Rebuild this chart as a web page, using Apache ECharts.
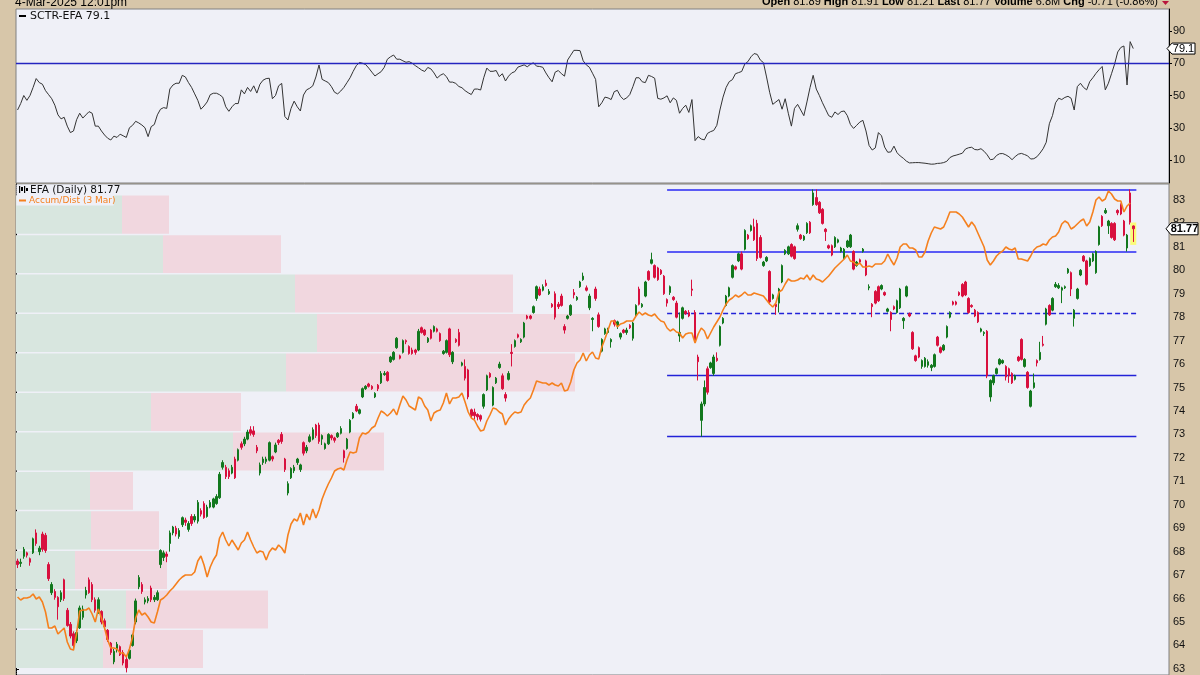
<!DOCTYPE html>
<html><head><meta charset="utf-8">
<script src="https://cdn.jsdelivr.net/npm/echarts@6/dist/echarts.min.js"></script>
<style>html,body{margin:0;padding:0;background:#d7c6a9}#c{width:1200px;height:675px}</style>
</head><body><div id="c"></div>
<script>
// EFA daily candles: [open, close, low, high]
const candles = [
[67.6,67.45,67.3,67.7],[67.5,67.55,67.35,67.7],[67.8,68.1,67.7,68.2],[67.95,67.85,67.75,68.0],[67.7,67.55,67.4,67.75],[67.95,68.55,67.9,68.6],[68.8,68.35,68.25,68.95],[68.0,68.15,67.85,68.25],[68.75,68.1,68.0,68.85],[68.7,68.05,67.95,68.8],
[67.45,66.85,66.75,67.55],[66.25,66.6,66.15,66.7],[66.3,66.05,65.95,66.4],[66.05,65.65,65.1,66.1],[65.95,66.25,65.85,66.35],[66.8,66.0,65.9,66.85],[65.5,64.85,64.8,65.6],[64.9,64.4,64.3,65.0],[64.5,64.0,63.8,64.6],[64.2,64.55,64.1,64.65],
[64.75,65.6,64.7,65.7],[65.2,65.55,65.1,65.7],[66.15,66.35,66.0,66.5],[66.8,66.25,66.2,66.9],[66.6,65.95,65.85,66.7],[65.95,65.5,65.4,66.05],[65.45,65.95,65.35,66.05],[65.45,65.0,64.9,65.5],[65.05,64.8,64.7,65.15],[64.65,64.25,64.15,64.7],
[64.1,63.7,63.6,64.15],[63.3,63.75,63.2,63.85],[63.85,64.05,63.7,64.15],[63.95,63.6,63.55,64.0],[63.7,63.25,63.15,63.8],[63.4,63.05,62.85,63.5],[63.45,63.8,63.4,63.85],[64.0,64.45,63.95,64.5],[65.0,65.9,64.9,66.0],[66.5,66.9,66.4,67.0],
[66.6,66.3,66.2,66.7],[65.85,65.95,65.75,66.05],[65.9,66.0,65.8,66.1],[66.45,65.95,65.85,66.55],[65.95,66.05,65.85,66.15],[65.95,66.25,65.9,66.35],[67.45,68.05,67.3,68.1],[67.75,67.95,67.6,68.05],[67.9,67.8,67.55,68.0],[68.35,68.8,68.0,68.9],
[68.8,69.05,68.7,69.1],[69.0,68.75,68.65,69.1],[68.65,68.9,68.55,69.0],[69.15,69.45,69.05,69.5],[69.35,69.25,69.1,69.45],[68.95,69.2,68.85,69.3],[69.5,69.2,69.1,69.6],[69.35,69.5,69.25,69.6],[69.3,70.1,69.2,70.2],[69.75,69.6,69.5,69.85],
[70.05,69.45,69.4,70.15],[69.5,69.9,69.45,70.0],[69.9,70.1,69.85,70.2],[69.9,70.25,69.85,70.3],[70.05,70.35,70.0,70.45],[70.3,71.3,70.25,71.4],[71.6,71.8,71.5,71.9],[71.6,71.2,71.1,71.7],[71.45,71.2,71.1,71.55],[71.35,71.6,71.3,71.7],
[71.95,71.15,71.1,72.05],[71.9,72.35,71.85,72.4],[72.6,72.45,72.35,72.7],[72.6,72.8,72.5,72.9],[72.8,73.1,72.75,73.2],[73.2,73.05,72.95,73.35],[73.15,73.0,72.9,73.35],[72.45,72.3,72.2,72.55],[71.35,71.7,71.25,71.8],[71.8,71.95,71.7,72.05],
[71.85,71.95,71.75,72.05],[71.9,72.65,71.85,72.7],[72.05,71.95,71.85,72.1],[72.25,72.55,72.2,72.65],[72.75,72.65,72.55,72.8],[73.0,72.7,72.6,73.1],[71.95,71.5,71.4,72.0],[70.5,70.9,70.4,71.0],[71.15,71.55,71.1,71.6],[71.45,71.6,71.35,71.7],
[71.8,71.95,71.7,72.0],[71.5,71.7,71.4,71.75],[72.65,72.2,72.1,72.7],[72.3,72.45,72.2,72.55],[72.7,72.9,72.65,73.0],[72.8,73.2,72.75,73.3],[73.4,72.95,72.85,73.45],[73.4,72.7,72.6,73.5],[72.8,72.95,72.55,73.0],[72.4,72.6,72.35,72.65],
[72.6,73.0,72.55,73.05],[72.95,72.85,72.75,73.0],[72.85,72.75,72.65,72.9],[72.9,73.05,72.85,73.1],[73.05,73.25,73.0,73.35],[72.3,72.0,71.8,72.35],[72.4,72.8,72.35,72.85],[73.1,73.6,73.05,73.65],[73.7,73.9,73.65,73.95],[74.2,74.0,73.95,74.3],
[73.9,74.05,73.85,74.1],[74.6,74.95,74.55,75.0],[74.95,75.05,74.9,75.1],[75.15,75.05,75.0,75.2],[75.05,74.95,74.9,75.1],[74.6,74.75,74.55,74.8],[75.1,74.95,74.85,75.15],[75.2,75.6,75.15,75.7],[75.55,75.6,75.5,75.7],[75.65,75.3,75.25,75.7],
[76.1,76.3,76.05,76.35],[76.2,76.5,76.15,76.55],[76.7,77.1,76.65,77.15],[76.35,76.25,76.2,76.4],[76.5,77.0,76.45,77.05],[77.0,76.95,76.85,77.05],[76.75,76.45,76.4,76.8],[76.6,76.45,76.4,76.7],[76.6,76.5,76.4,76.65],[76.6,77.4,76.55,77.5],
[77.55,77.35,77.3,77.6],[77.45,77.25,77.2,77.5],[76.95,77.1,76.9,77.15],[77.45,77.1,77.05,77.5],[77.4,77.6,77.35,77.65],[77.5,77.4,77.35,77.55],[77.3,77.0,76.95,77.35],[76.45,76.55,76.4,76.6],[76.5,77.0,76.45,77.05],[77.5,76.4,76.3,77.55],
[76.1,76.5,76.0,76.55],[77.05,76.95,76.9,77.1],[77.35,76.8,76.75,77.5],[75.95,76.05,75.9,76.1],[75.9,75.4,75.3,76.2],[75.75,74.6,74.5,75.8],[74.05,73.8,73.7,74.1],[73.95,73.8,73.65,74.1],[73.85,73.75,73.6,73.9],[73.8,73.65,73.55,73.85],
[74.2,74.7,74.1,74.75],[74.9,75.5,74.85,75.55],[75.6,75.45,75.4,75.65],[74.25,75.0,74.2,75.05],[75.2,75.4,75.15,75.45],[75.85,76.0,75.8,76.1],[75.5,74.95,74.9,75.6],[74.7,74.55,74.4,74.8],[75.35,75.6,75.3,75.7],[76.5,76.45,75.9,76.85],
[76.75,77.0,76.7,77.05],[77.25,77.15,77.1,77.3],[76.95,77.05,76.9,77.1],[77.15,77.75,77.1,77.8],[78.05,77.95,77.9,78.1],[78.05,77.95,77.9,78.1],[78.2,78.45,78.15,78.5],[78.8,79.3,78.7,79.35],[79.2,78.95,78.9,79.3],[79.15,79.3,79.1,79.4],
[79.45,79.35,79.3,79.6],[79.0,79.1,78.95,79.2],[78.55,78.45,78.4,78.6],[79.0,78.0,77.9,79.1],[78.55,78.45,78.35,78.65],[78.9,78.5,78.45,79.0],[77.6,77.45,77.3,77.7],[77.95,78.05,77.9,78.1],[78.1,78.5,78.05,78.55],[79.05,78.95,78.8,79.2],
[78.75,78.85,78.7,78.9],[79.3,79.5,79.25,79.55],[79.6,79.75,79.55,79.9],[79.25,79.15,79.1,79.35],[78.4,78.9,78.3,79.0],[77.9,77.95,77.4,78.0],[79.2,78.8,78.7,79.3],[78.1,77.6,77.55,78.2],[76.55,77.05,76.5,77.1],[77.3,77.5,77.25,77.55],
[77.35,77.5,77.3,77.55],[76.95,77.05,76.7,77.1],[77.85,77.7,77.6,77.9],[77.65,77.8,77.5,77.85],[77.15,77.3,77.05,77.35],[77.45,77.35,77.3,77.5],[77.35,77.45,77.25,77.55],[77.65,77.55,77.5,77.7],[77.1,77.75,77.0,77.8],[78.1,78.5,78.05,78.55],
[79.2,78.55,78.5,79.3],[78.45,78.55,78.4,78.6],[78.9,79.5,78.85,79.55],[79.95,79.6,79.55,80.0],[80.3,80.45,80.25,80.75],[80.2,79.7,79.65,80.25],[80.1,79.6,79.55,80.15],[80.0,79.85,79.8,80.05],[79.75,79.0,78.95,79.8],[78.75,78.6,78.45,78.8],
[79.05,79.3,78.95,79.35],[78.85,78.75,78.7,78.9],[78.6,78.0,77.95,78.7],[77.2,77.35,76.95,78.2],[77.95,78.4,77.9,78.45],[78.25,78.15,78.1,78.3],[78.2,78.05,78.0,78.3],[79.2,79.15,78.9,79.6],[78.2,77.0,76.95,78.3],[76.3,76.1,75.3,76.4],
[73.6,74.3,72.9,74.4],[74.3,75.0,74.2,75.3],[75.8,74.8,74.7,75.9],[75.85,76.05,75.8,76.1],[75.6,76.3,75.5,76.4],[76.25,76.15,76.1,76.5],[76.8,77.6,76.75,77.65],[77.75,77.95,77.7,78.0],[78.5,78.9,78.45,78.95],[78.9,79.25,78.85,79.3],
[79.7,80.2,79.65,80.25],[80.15,80.05,80.0,80.2],[80.4,80.7,80.35,80.75],[80.7,80.05,80.0,80.8],[80.9,81.7,80.85,81.75],[81.5,81.35,81.3,81.55],[81.7,81.9,81.65,81.95],[81.85,81.3,81.25,82.2],[82.0,80.5,80.4,82.15],[81.4,80.55,80.5,81.5],
[80.2,80.35,80.15,80.4],[80.4,80.55,80.35,80.6],[79.95,78.65,78.55,80.0],[78.8,78.95,78.75,79.0],[78.55,78.45,78.1,78.6],[78.6,79.2,78.2,79.25],[79.5,80.2,79.45,80.25],[80.7,80.85,80.65,80.9],[80.7,81.0,80.65,81.05],[81.1,80.6,80.55,81.15],
[81.0,80.5,80.45,81.05],[81.75,81.9,81.65,82.0],[81.5,81.35,81.3,81.55],[81.3,81.45,81.25,81.5],[81.6,82.0,81.55,82.05],[82.05,81.6,81.55,82.1],[82.8,83.3,82.75,83.45],[83.1,82.8,82.75,83.45],[82.9,82.45,82.4,82.95],[82.6,82.0,81.95,82.65],
[81.75,81.65,81.25,81.8],[81.05,80.95,80.9,81.1],[81.05,80.65,80.6,81.1],[81.0,81.4,80.95,81.45],[81.2,81.3,81.15,81.35],[80.8,80.95,80.75,81.0],[80.5,80.9,80.45,80.95],[81.0,81.25,80.95,81.3],[81.0,81.5,80.95,81.55],[80.8,80.05,80.0,80.85],
[80.2,80.35,80.15,80.4],[80.45,80.35,80.3,80.5],[80.8,80.9,80.75,80.95],[80.4,79.8,79.75,80.45],[79.25,79.3,79.15,79.4],[78.55,78.45,78.0,78.6],[79.1,78.6,78.55,79.15],[79.3,78.7,78.65,79.35],[79.2,79.35,79.15,79.4],[79.05,78.95,78.9,79.1],
[78.25,78.35,78.2,78.4],[78.2,77.9,77.4,78.25],[78.45,78.35,78.3,78.5],[78.2,78.7,78.15,78.75],[78.4,79.2,78.35,79.25],[77.85,77.95,77.5,78.0],[78.9,79.3,78.85,79.35],[78.15,78.05,78.0,78.2],[77.35,76.65,76.6,77.4],[76.35,76.15,76.1,76.4],
[76.7,76.3,76.25,76.75],[75.9,76.15,75.8,76.2],[75.9,76.25,75.85,76.3],[75.95,76.1,75.85,76.2],[75.85,75.95,75.7,76.0],[75.9,76.4,75.85,76.45],[77.15,76.8,76.75,77.2],[76.7,76.5,76.45,76.75],[76.6,76.8,76.55,76.85],[77.15,77.6,77.1,77.65],
[78.0,78.2,77.95,78.25],[78.65,78.55,78.5,78.7],[78.65,78.55,78.5,78.7],[79.05,78.95,78.9,79.1],[79.4,78.9,78.85,79.45],[79.5,78.95,78.9,79.55],[78.8,78.2,78.15,78.85],[78.5,78.45,78.4,78.55],[78.3,78.05,78.0,78.35],[78.2,77.8,77.75,78.25],
[77.4,77.5,77.35,77.55],[77.3,77.35,77.2,77.4],[77.4,75.5,75.4,77.45],[74.6,75.3,74.4,75.35],[75.2,75.5,75.1,75.55],[75.6,75.8,75.55,75.85],[76.0,76.2,75.95,76.25],[76.05,76.15,76.0,76.2],[75.9,75.45,75.3,75.95],[75.8,75.5,75.2,75.85],
[75.6,75.2,75.15,75.65],[75.35,75.5,75.3,75.55],[76.3,76.15,76.1,76.35],[77.05,76.2,76.15,77.1],[75.9,76.2,75.85,76.25],[75.65,75.0,74.95,75.7],[74.2,74.85,74.15,74.9],[75.0,75.2,74.95,75.6],[76.15,76.05,75.9,76.2],[76.2,76.5,76.15,76.95],
[76.85,76.8,76.75,77.2],[77.7,78.35,77.65,78.4],[78.5,78.1,78.05,78.55],[78.3,78.8,78.25,78.85],[79.3,79.4,79.25,79.5],[79.25,79.35,79.2,79.45],[79.15,79.25,78.6,79.3],[79.25,79.3,79.2,79.35],[79.9,80.05,79.85,80.1],[79.9,79.2,78.9,79.95],
[77.95,78.3,77.6,78.35],[78.8,79.2,78.75,79.25],[79.8,80.0,79.75,80.05],[80.6,80.4,80.35,80.65],[80.4,79.4,79.35,80.45],[80.2,80.5,80.15,80.55],[80.4,80.7,80.35,80.75],[79.9,80.8,79.85,80.85],[81.1,81.85,81.05,81.9],[82.3,81.9,81.85,82.35],
[82.45,82.55,82.4,82.65],[81.9,82.1,81.55,82.15],[82.0,81.4,81.35,82.05],[82.0,81.3,81.25,82.05],[82.55,82.45,82.35,82.6],[82.8,82.4,82.35,82.85],[82.1,81.5,81.45,82.15],[80.95,81.5,80.8,81.55],[83.3,82.05,81.95,83.45],[81.89,81.77,81.21,81.91]
];

// Accumulation/Distribution (relative units, hidden scale 0..491)
const accumDist = [
78,75,77,77,78,81,76,78,73,63, 47,47,49,41,44,47,33,26,25,42, 64,65,65,67,61,53,66,57,47,35,
27,27,26,22,22,18,26,38,57,65, 60,62,58,53,52,63,75,77,80,84, 87,91,95,98,100,100,100,103,114,119,
110,98,108,115,120,137,143,135,129,135, 130,125,132,135,143,135,128,122,124,123, 115,123,127,125,130,127,122,140,151,156,
154,162,150,161,155,166,157,165,176,184, 191,197,204,206,207,205,215,223,222,223, 237,242,241,243,247,249,257,264,262,259,
262,266,260,270,279,275,269,267,265,278, 276,269,265,254,262,264,265,272,282,271, 277,277,278,282,273,263,257,255,249,244,
245,254,260,267,266,263,261,250,256,260, 263,262,263,270,274,277,285,294,293,292, 292,290,292,290,289,292,284,285,293,305,
312,315,322,314,320,323,317,316,328,336, 345,354,354,348,351,352,354,354,354,359, 363,360,362,360,359,361,357,354,353,347,
344,346,343,342,337,341,342,342,332,341, 347,344,336,342,348,353,358,365,371,375, 377,380,378,380,383,380,380,382,381,380,
379,375,371,368,372,383,385,391,396,394, 394,395,397,396,400,395,400,396,395,393, 396,399,403,407,410,413,416,420,414,413,
410,412,408,408,409,408,411,411,411,414, 421,415,410,417,428,431,431,427,427,425, 418,418,423,434,442,448,447,446,448,455,
463,463,463,461,458,453,448,453,449,442, 435,428,415,410,414,419,422,424,428,426, 425,427,416,416,415,414,419,425,428,429,
431,430,435,438,439,443,451,454,452,446, 448,451,454,456,449,453,463,475,478,474, 476,484,481,476,474,474,463,469,472,null
];

// SCTR for EFA
const sctr = [
41,45,50,47,50,55,60.5,58,57,53, 50.5,48,44,38,35.5,36.5,31,27,28,35, 39,36,38,40,39,31,31,28,25.5,23.5,
22.4,24.8,24,26,25,24,30,31.5,34,33, 31.7,30,24.5,30.7,32,38,41.5,42.5,42,54, 56.5,57.6,57.6,62.5,61.5,58,55,51,47,41.5,
43.5,46,50.5,51.4,51.4,50.5,49,43,40.2,43, 45,45,53.5,51,55,52.5,56,51.5,57,59.5, 60.5,60.7,48,50,56,57.5,37,34.8,42,46.5,
43,40.4,50.3,53.5,54.5,56,61.5,68.9,60,59, 58,55.5,52,51,52.8,55,58,61,65,68.5, 70.5,70,69.2,67,64.5,62.1,63.5,64.8,67.5,72.5,
74,75.1,72.5,72.5,71.5,70.6,71,70,68.5,67.2, 65.8,64.9,67.4,66.5,64,60.8,62.5,63.5,61.7,58.3, 58.3,57.5,55.6,54.8,53,51.7,50.6,54,54,53.4,
61,67,65,65,65.5,61.7,63.5,59,62,64, 64.8,67.6,68.3,69,67.8,69.3,70.3,68.2,68,67.5, 64,61,58.5,64.5,65.5,63.5,62,72,75,78,
78,77.8,71.5,69,67.5,63.8,60,43,45.5,49, 48.5,47.5,52.4,53.2,49.5,47.5,48.5,50.6,55.5,61, 61,58.5,58,62.5,61.8,60.7,48.2,47.7,48.5,49.8,
45.5,48.5,47,39,42,44,39.5,47.5,22,24.5, 23,22.5,26.5,27.6,28.3,31.5,41,49,55,58.6, 59.8,63.5,64.2,64.9,69.5,71,74,76,75.5,72,
70.4,61.5,52,44.5,46,47.5,41.5,48,39,31, 42,44.5,41,37.5,46,55,62.5,54,50,45.5, 41.5,37.5,36.5,39.8,38.2,40,40.4,37.5,32,29.6,
31.5,33.5,34.6,28,19,16.2,17.5,27,25,18, 14.8,15,18.6,14.5,12.5,11.1,9.3,8.2,8.3,8.4, 8.4,8.2,8.0,7.7,7.4,7.5,7.9,8.0,8.4,9.2,
11.5,12.5,13.0,13.6,14.2,16.8,17.6,17.9,16.5,16.3, 17.0,15.4,13.2,10.2,10.5,12.8,13.9,14.0,13.2,12.0, 10.2,12.1,13.6,14.1,13.4,12.6,10.6,10.8,12.0,14.3,
17.0,21,32.5,37.5,45.5,48.3,47.5,48.8,49.5,48.3, 41,55.5,57.6,55,53.5,58.6,61,63.7,66,68, 53.5,57.6,63.5,69.5,77,79.8,80.7,56.5,83.4,79.1
];

const priceTicks = [63,64,65,66,67,68,69,70,71,72,73,74,75,76,77,78,79,80,81,82,83];
const sctrTicks = [10,30,50,70,90];
// Volume-by-price zones (price bounds, up volume, down volume; relative units)
const vbpBounds = [63.00,64.68,66.37,68.05,69.74,71.42,73.10,74.79,76.47,78.16,79.84,81.52,83.21];
const vbpUp =   [87,110,59,75,74,217,135,270,301,279,147,106];
const vbpDown = [100,142,92,68,43,151,90,289,273,218,118,47];
// Horizontal price levels drawn from bar 209 to 360
const levels = [83.43, 80.80, 78.16, 75.54, 72.92];
const levelDashed = [false,false,true,false,false];
const levelStartBar = 209, levelEndBar = 360;
const sctrLevel = 70;
const lastPrice = 81.77, lastSctr = 79.1;

// categories: trading days ending 4-Mar-2025 plus empty slots on the right
const categories = [];
(function(){
  const d = new Date(Date.UTC(2025,2,4)); const back = [];
  while (back.length < candles.length) { const w = d.getUTCDay(); if (w!==0 && w!==6) back.unshift(d.toISOString().slice(0,10)); d.setUTCDate(d.getUTCDate()-1); }
  const f = new Date(Date.UTC(2025,2,5)); const fwd = [];
  while (fwd.length < 11) { const w = f.getUTCDay(); if (w!==0 && w!==6) fwd.push(f.toISOString().slice(0,10)); f.setUTCDate(f.getUTCDate()+1); }
  categories.push(...back, ...fwd);
})();

const vbpData = vbpUp.map((u,i)=>[vbpBounds[i], vbpBounds[i+1], u, vbpDown[i]]);

const BG = '#eff0f7', BEIGE = '#d7c6a9';
const UP = '#12781e', DOWN = '#d8103e';
const chart = echarts.init(document.getElementById('c'), null, {renderer:'canvas'});

const levelLines = levels.map((v,i)=>[
  {coord:[levelStartBar, v], lineStyle:{color: i<2 ? '#5a5af5' : '#2222d8', width: i<2 ? 2 : 1.3, type: levelDashed[i] ? [5,3] : 'solid'}},
  {coord:[levelEndBar, v]}
]);

const option = {
  animation:false,
  backgroundColor: BEIGE,
  grid:[
    {left:16, right:31, top:9, height:174, show:true, backgroundColor:BG, borderColor:'#808080', borderWidth:1},
    {left:16, right:31, top:184, bottom:0, show:true, backgroundColor:BG, borderColor:'#808080', borderWidth:1}
  ],
  xAxis:[
    {type:'category', gridIndex:0, data:categories, boundaryGap:true, show:false},
    {type:'category', gridIndex:1, data:categories, boundaryGap:true, show:false},
    {type:'value', gridIndex:1, min:0, max:1153, show:false}
  ],
  yAxis:[
    {type:'value', gridIndex:0, position:'right', min:-4.26, max:103.64,
     axisLine:{show:true, lineStyle:{color:'#000', width:1}},
     axisTick:{show:true, inside:false, length:3, customValues:sctrTicks, lineStyle:{color:'#000'}},
     axisLabel:{show:true, margin:4, customValues:sctrTicks, color:'#111', fontSize:11, fontFamily:'Liberation Sans'},
     splitLine:{show:false}},
    {type:'value', gridIndex:1, position:'right', min:62.74, max:83.68,
     axisLine:{show:true, lineStyle:{color:'#000', width:1, type:'dotted'}},
     axisTick:{show:true, inside:false, length:3, customValues:priceTicks, lineStyle:{color:'#000'}},
     axisLabel:{show:true, margin:4, customValues:priceTicks, color:'#111', fontSize:11, fontFamily:'Liberation Sans'},
     splitLine:{show:false}},
    {type:'value', gridIndex:1, min:0, max:491, show:false}
  ],
  series:[
    {type:'custom', name:'VBP', xAxisIndex:2, yAxisIndex:1, z:1, silent:true, data:vbpData,
     renderItem:function(params, api){
       const lo = api.value(0), hi = api.value(1), u = api.value(2), d = api.value(3);
       const p0 = api.coord([0, lo]), p1 = api.coord([u, hi]), p2 = api.coord([u+d, hi]);
       const yT = p1[1] + 0.5, h = p0[1] - p1[1] - 1.5;
       return {type:'group', children:[
         {type:'rect', shape:{x:p0[0], y:yT, width:p1[0]-p0[0], height:h}, style:{fill:'#d8e6df'}},
         {type:'rect', shape:{x:p1[0], y:yT, width:p2[0]-p1[0], height:h}, style:{fill:'#f1d7df'}}
       ]};
     }},
    {type:'candlestick', name:'EFA', xAxisIndex:1, yAxisIndex:1, z:3, data:candles, barWidth:2,
     itemStyle:{color:UP, color0:DOWN, borderColor:UP, borderColor0:DOWN, borderWidth:1},
     markLine:{silent:true, symbol:['none','none'], label:{show:false}, data:levelLines, z:2}},
    {type:'line', name:'Accum/Dist', xAxisIndex:1, yAxisIndex:2, z:4, data:accumDist, showSymbol:false, symbol:'none',
     lineStyle:{color:'#f5801e', width:1.6}, itemStyle:{color:'#f5801e'}},
    {type:'line', name:'SCTR', xAxisIndex:0, yAxisIndex:0, z:3, data:sctr, showSymbol:false, symbol:'none',
     lineStyle:{color:'#333', width:1}, itemStyle:{color:'#333'},
     markLine:{silent:true, symbol:['none','none'], label:{show:false},
       data:[{yAxis:sctrLevel, lineStyle:{color:'#2424c0', width:1.3, type:'solid'}}],
       lineStyle:{color:'#2424c0', width:1.3, type:'solid'}}}
  ]
};
chart.setOption(option);

const yLast = chart.convertToPixel({yAxisIndex:1}, lastPrice);
const ySctr = chart.convertToPixel({yAxisIndex:0}, lastSctr);
const xLast = chart.convertToPixel({xAxisIndex:1}, candles.length-1);
const yHi = chart.convertToPixel({yAxisIndex:1}, candles[candles.length-1][3]);
const yLo = chart.convertToPixel({yAxisIndex:1}, candles[candles.length-1][2]);

const F = 'DejaVu Sans';
chart.setOption({graphic:[
  {type:'rect', z:0, shape:{x:xLast-3, y:yHi-3, width:6, height:yLo-yHi+6}, style:{fill:'rgba(255,255,80,0.75)'}},
  {type:'text', z:10, left:15, top:-3.5, style:{text:'4-Mar-2025 12:01pm', font:'12px Liberation Sans', fill:'#000'}},
  {type:'text', z:10, x:1158, y:-3.5, style:{
    text:'{b|Open} 81.89 {b|High} 81.91 {b|Low} 81.21 {b|Last} 81.77 {b|Volume} 6.8M {b|Chg} -0.71 (-0.86%)',
    align:'right', verticalAlign:'top', font:'11px Liberation Sans', fill:'#000',
    rich:{b:{fontWeight:'bold', fontSize:11, fontFamily:'Liberation Sans', fill:'#000'}}}},
  {type:'polygon', z:10, shape:{points:[[1162,1],[1169,1],[1165.5,5]]}, style:{fill:'#b8143c'}},
  // legends
  {type:'rect', z:10, shape:{x:19, y:15, width:7, height:2}, style:{fill:'#000'}},
  {type:'text', z:10, x:30, y:16, style:{text:'SCTR-EFA 79.1', font:'11px '+F, fill:'#111', verticalAlign:'middle'}},
  {type:'rect', z:8, shape:{x:16.5, y:184.5, width:97, height:21}, style:{fill:BG}},
  {type:'rect', z:10, shape:{x:19, y:186, width:1.2, height:7}, style:{fill:'#000'}},
  {type:'rect', z:10, shape:{x:21, y:187, width:2, height:4}, style:{fill:'#000'}},
  {type:'rect', z:10, shape:{x:24, y:186, width:1.2, height:7}, style:{fill:'#000'}},
  {type:'rect', z:10, shape:{x:26, y:188, width:2, height:3}, style:{fill:'#000'}},
  {type:'text', z:10, x:30, y:190, style:{text:'EFA (Daily) 81.77', font:'10.5px '+F, fill:'#111', verticalAlign:'middle'}},
  {type:'rect', z:10, shape:{x:19, y:199.5, width:7, height:2}, style:{fill:'#f5801e'}},
  {type:'text', z:10, x:29, y:200.5, style:{text:'Accum/Dist (3 Mar)', font:'9px '+F, fill:'#f5801e', verticalAlign:'middle'}},
  // last value markers
  {type:'polygon', z:10, shape:{points:[[1167,ySctr],[1172,ySctr-5.5],[1195,ySctr-5.5],[1195,ySctr+5.5],[1172,ySctr+5.5]]}, style:{fill:'#fff', stroke:'#000', lineWidth:1}},
  {type:'text', z:11, x:1183.5, y:ySctr, style:{text:lastSctr.toFixed(1), font:'11px Liberation Sans', fill:'#000', align:'center', verticalAlign:'middle'}},
  {type:'polygon', z:10, shape:{points:[[1166,yLast],[1171,yLast-6],[1198,yLast-6],[1198,yLast+6],[1171,yLast+6]]}, style:{fill:'#fff', stroke:'#000', lineWidth:1}},
  {type:'text', z:11, x:1184.5, y:yLast, style:{text:lastPrice.toFixed(2), font:'bold 11px Liberation Sans', fill:'#000', align:'center', verticalAlign:'middle'}}
]});
</script></body></html>
